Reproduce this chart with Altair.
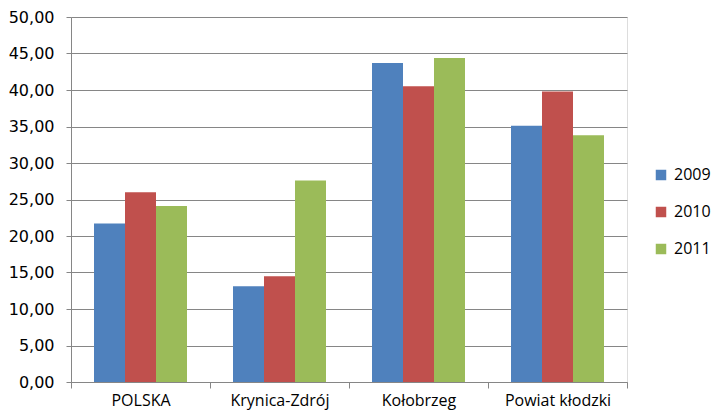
import altair as alt
import pandas as pd

categories = ["POLSKA", "Krynica-Zdrój", "Kołobrzeg", "Powiat kłodzki"]
years = ["2009", "2010", "2011"]
v2009 = [21.7, 13.1, 43.7, 35.1]
v2010 = [26.0, 14.5, 40.5, 39.8]
v2011 = [24.1, 27.6, 44.4, 33.8]
colors = ["#4F81BD", "#C0504D", "#9BBB59"]

rows = []
for i, c in enumerate(categories):
    for y, vals in zip(years, [v2009, v2010, v2011]):
        rows.append({"cat": c, "year": y, "value": vals[i]})
df = pd.DataFrame(rows)

chart = (
    alt.Chart(df)
    .mark_bar()
    .encode(
        x=alt.X(
            "cat:N",
            sort=categories,
            title=None,
            scale=alt.Scale(paddingInner=0, paddingOuter=0),
            axis=alt.Axis(
                labelAngle=0,
                labelFont="Open Sans",
                labelFontSize=16,
                labelColor="#000000",
                labelPadding=4,
                tickBand="extent",
                tickSize=6,
                tickColor="#868686",
                domainColor="#868686",
                grid=False,
            ),
        ),
        xOffset=alt.XOffset(
            "year:N",
            sort=years,
            scale=alt.Scale(paddingInner=0, paddingOuter=0.742),
        ),
        y=alt.Y(
            "value:Q",
            title=None,
            scale=alt.Scale(domain=[0, 50], nice=False),
            axis=alt.Axis(
                values=[0, 5, 10, 15, 20, 25, 30, 35, 40, 45, 50],
                format=".2f",
                labelExpr="replace(datum.label, '.', ',')",
                labelFont="DejaVu Sans",
                labelFontSize=16,
                labelColor="#000000",
                labelPadding=12,
                tickSize=5,
                tickColor="#868686",
                domainColor="#868686",
                gridColor="#868686",
                gridWidth=1,
            ),
        ),
        color=alt.Color(
            "year:N",
            sort=years,
            scale=alt.Scale(domain=years, range=colors),
            legend=alt.Legend(
                title=None,
                orient="none",
                legendX=582,
                legendY=150,
                symbolType="square",
                symbolSize=110,
                symbolStrokeWidth=0,
                labelFont="Open Sans",
                labelFontSize=16,
                labelColor="#000000",
                labelOffset=5,
                rowPadding=21,
                padding=0,
            ),
        ),
    )
    .properties(
        width=556,
        height=365,
        padding={"left": 63, "top": 9, "right": 88, "bottom": 29},
        autosize=alt.AutoSizeParams(type="none"),
    )
    .configure_view(stroke=None)
    .configure(background="#ffffff")
)

chart.save("out.html", embed_options={"renderer": "svg", "actions": False})
